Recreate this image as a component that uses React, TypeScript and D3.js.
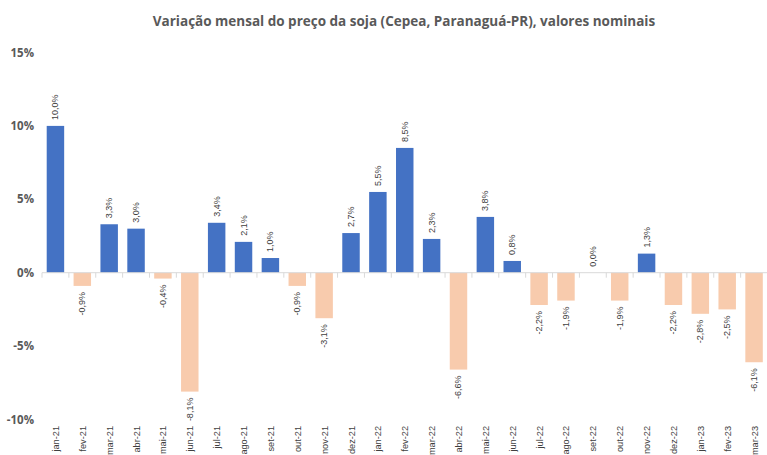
import React from "react";
import * as d3 from "d3";

const categories = [
  "jan-21","fev-21","mar-21","abr-21","mai-21","jun-21","jul-21","ago-21","set-21","out-21","nov-21","dez-21",
  "jan-22","fev-22","mar-22","abr-22","mai-22","jun-22","jul-22","ago-22","set-22","out-22","nov-22","dez-22",
  "jan-23","fev-23","mar-23",
];
const values = [
  10.0, -0.9, 3.3, 3.0, -0.4, -8.1, 3.4, 2.1, 1.0, -0.9, -3.1, 2.7,
  5.5, 8.5, 2.3, -6.6, 3.8, 0.8, -2.2, -1.9, 0.0, -1.9, 1.3, -2.2,
  -2.8, -2.5, -6.1,
];
const yTicks = [-10, -5, 0, 5, 10, 15];
const title = "Variação mensal do preço da soja (Cepea, Paranaguá-PR), valores nominais";

const W = 767;
const H = 455;

export default function App() {
  const x = d3.scaleBand<string>().domain(categories).range([42, 767.5]).paddingInner(0.35).paddingOuter(0.175);
  const y = d3.scaleLinear().domain([-10, 15]).range([419.5, 52.5]);
  const fmt = (v: number) => v.toFixed(1).replace(".", ",") + "%";
  const step = x.step();
  const x0 = 42;
  return (
    <svg width={W} height={H} style={{ position: "absolute", left: 0, top: 0, background: "#fff" }}>
      <text x={404} y={26} textAnchor="middle" fontFamily="Open Sans, sans-serif" fontWeight="bold" fontSize={13.5} fill="#595959">
        {title}
      </text>
      {yTicks.map((t) => (
        <text key={t} x={34} y={y(t) + 4} textAnchor="end" fontFamily="Open Sans, sans-serif" fontWeight="bold" fontSize={11.5} fill="#595959">
          {t}%
        </text>
      ))}
      {values.map((v, i) => {
        const c = categories[i];
        const bx = x(c)!;
        const top = Math.min(y(v), y(0));
        const h = Math.abs(y(v) - y(0));
        return (
          <rect key={c} x={bx} y={top} width={x.bandwidth()} height={h} fill={v >= 0 ? "#4472C4" : "#F8CBAD"} />
        );
      })}
      <line x1={x0} x2={767} y1={y(0)} y2={y(0)} stroke="#d9d9d9" strokeWidth={1} />
      {categories.map((c, i) => (
        <line key={"t" + c} x1={x0 + i * step} x2={x0 + i * step} y1={y(0)} y2={y(0) + 5} stroke="#d9d9d9" strokeWidth={1} />
      ))}
      {values.map((v, i) => {
        const c = categories[i];
        const cx = x(c)! + x.bandwidth() / 2;
        const pos = v >= 0;
        const yy = pos ? y(v) - 6 : y(v) + 6;
        return (
          <text
            key={"l" + c}
            transform={`translate(${cx + 3},${yy}) rotate(-90)`}
            textAnchor={pos ? "start" : "end"}
            fontFamily="Liberation Sans, sans-serif"
            fontSize={9}
            fill="#404040"
          >
            {fmt(v)}
          </text>
        );
      })}
      {categories.map((c) => {
        const cx = x(c)! + x.bandwidth() / 2;
        return (
          <text
            key={"c" + c}
            transform={`translate(${cx + 3.5},${426}) rotate(-90)`}
            textAnchor="end"
            fontFamily="Liberation Sans, sans-serif"
            fontSize={9.2}
            fill="#404040"
          >
            {c}
          </text>
        );
      })}
    </svg>
  );
}
